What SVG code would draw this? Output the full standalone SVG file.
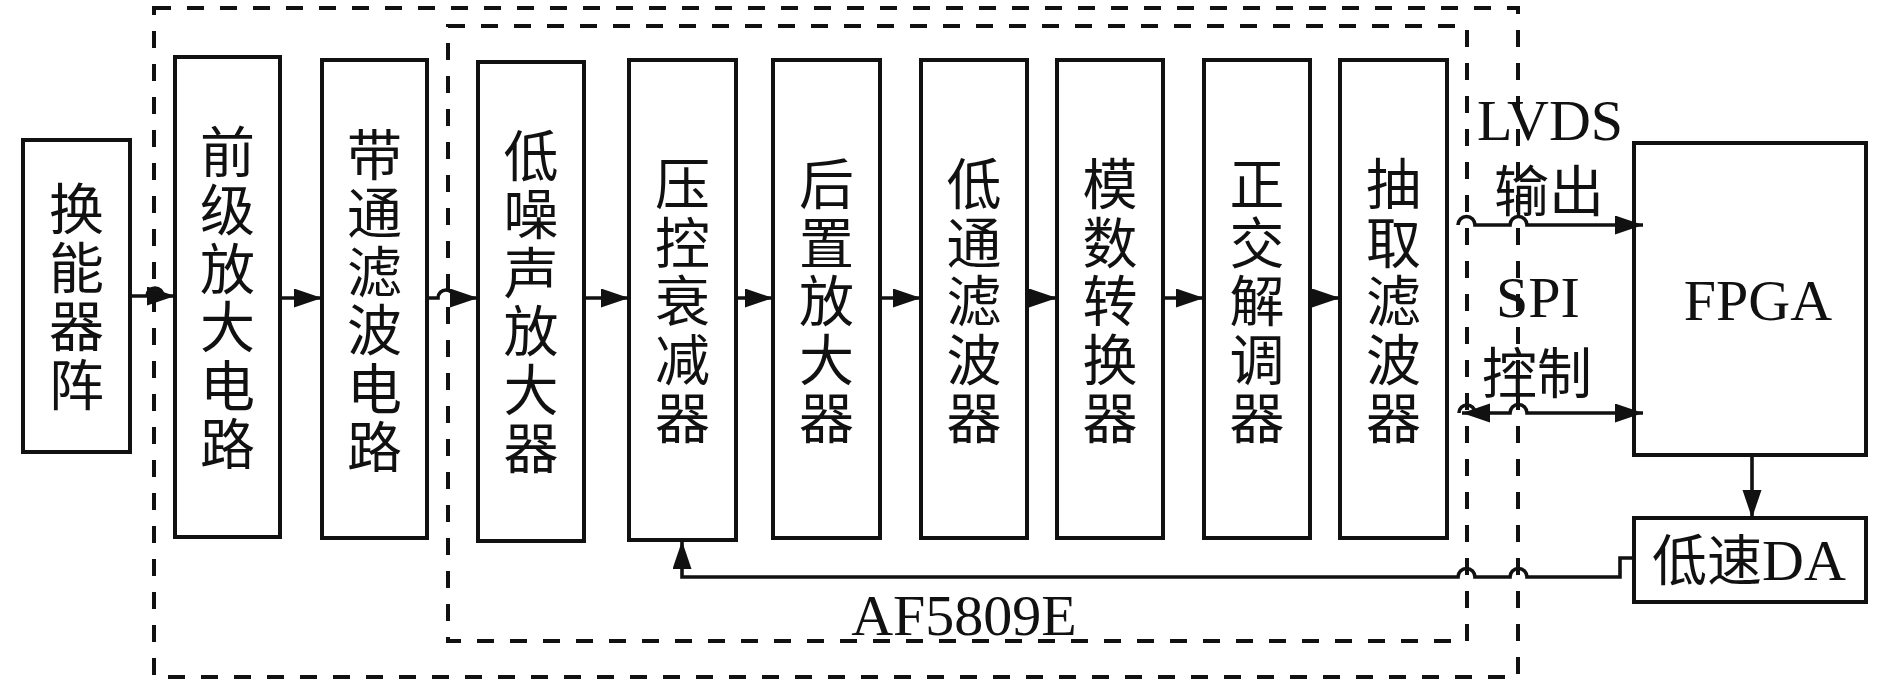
<svg xmlns="http://www.w3.org/2000/svg" width="1890" height="685" viewBox="0 0 1890 685">
<style>
.box{fill:#fff;stroke:#111;stroke-width:4}
.dash{fill:none;stroke:#111;stroke-width:4;stroke-dasharray:17 16}
.ln{fill:none;stroke:#111;stroke-width:3.6}
.cjk{font-family:"Noto Sans CJK SC",sans-serif;font-size:55px;fill:#111;text-anchor:middle}
.v{writing-mode:vertical-rl;text-orientation:upright;letter-spacing:3.5px}
.lat{font-family:"Liberation Serif","Noto Sans CJK SC",serif;font-size:58px;fill:#111;text-anchor:middle}
</style>
<defs>
<marker id="ah" markerUnits="userSpaceOnUse" markerWidth="30" markerHeight="20" refX="28" refY="9.5" orient="auto-start-reverse" viewBox="0 0 30 20">
<path d="M0,0 L28,9.5 L0,19 z" fill="#111"/>
</marker>
</defs>
<rect width="1890" height="685" fill="#fff"/>
<g id="frames">
<rect class="dash" x="154" y="8" width="1364" height="669"/>
<rect class="dash" x="448" y="26" width="1019" height="615"/>
</g>
<g id="n1"><rect class="box" x="23" y="140" width="107" height="312"/>
<text class="cjk v" x="76.5" y="298">换能器阵</text></g>
<g id="n2"><rect class="box" x="175" y="57" width="105" height="480"/>
<text class="cjk v" x="227.5" y="299">前级放大电路</text></g>
<g id="n3"><rect class="box" x="322" y="60" width="105" height="478"/>
<text class="cjk v" x="374.5" y="302">带通滤波电路</text></g>
<g id="n4"><rect class="box" x="478" y="62" width="106" height="479"/>
<text class="cjk v" x="531" y="303">低噪声放大器</text></g>
<g id="n5"><rect class="box" x="629" y="60" width="107" height="480"/>
<text class="cjk v" x="682.5" y="302">压控衰减器</text></g>
<g id="n6"><rect class="box" x="773" y="60" width="107" height="478"/>
<text class="cjk v" x="826.5" y="302">后置放大器</text></g>
<g id="n7"><rect class="box" x="921" y="60" width="106" height="478"/>
<text class="cjk v" x="974" y="302">低通滤波器</text></g>
<g id="n8"><rect class="box" x="1057" y="60" width="106" height="478"/>
<text class="cjk v" x="1110" y="302">模数转换器</text></g>
<g id="n9"><rect class="box" x="1204" y="60" width="106" height="478"/>
<text class="cjk v" x="1257" y="302">正交解调器</text></g>
<g id="n10"><rect class="box" x="1340" y="60" width="107" height="478"/>
<text class="cjk v" x="1393.5" y="302">抽取滤波器</text></g>
<g id="fpga"><rect class="box" x="1634" y="143" width="232" height="312"/>
<text class="lat" x="1758" y="320">FPGA</text></g>
<g id="da"><rect class="box" x="1634" y="518" width="232" height="84"/>
<text class="lat" x="1652" y="580" style="text-anchor:start"><tspan style="font-family:'Noto Sans CJK SC',sans-serif;font-size:55px">低速</tspan>DA</text></g>
<g id="labels">
<text class="lat" x="1550" y="140">LVDS</text>
<text class="cjk" x="1549" y="211">输出</text>
<text class="lat" x="1538" y="317">SPI</text>
<text class="cjk" x="1537" y="393">控制</text>
<text class="lat" x="964" y="635">AF5809E</text>
</g>
<g id="connectors">
<path class="ln" d="M130,296 H147 A8,8 0 0 1 163,296 H175" marker-end="url(#ah)"/>
<path class="ln" d="M280,298 H322" marker-end="url(#ah)"/>
<path class="ln" d="M427,298 H438 A8,8 0 0 1 454,298 H478" marker-end="url(#ah)"/>
<path class="ln" d="M584,298 H629" marker-end="url(#ah)"/>
<path class="ln" d="M736,298 H773" marker-end="url(#ah)"/>
<path class="ln" d="M880,298 H921" marker-end="url(#ah)"/>
<path class="ln" d="M1027,298 H1057" marker-end="url(#ah)"/>
<path class="ln" d="M1163,298 H1204" marker-end="url(#ah)"/>
<path class="ln" d="M1310,298 H1340" marker-end="url(#ah)"/>
<path class="ln" d="M1458,225 A8.5,8.5 0 0 1 1475,225 H1510 A8.5,8.5 0 0 1 1527,225 H1643" marker-end="url(#ah)"/>
<path class="ln" d="M1459,413 A8,8 0 0 1 1475,413"/>
<path class="ln" d="M1462,413 H1510 A8.5,8.5 0 0 1 1527,413 H1643" marker-start="url(#ah)" marker-end="url(#ah)"/>
<path class="ln" d="M1634,558 H1620 V577 H1527 A8.5,8.5 0 0 0 1510,577 H1475 A8.5,8.5 0 0 0 1458,577 H682 V541" marker-end="url(#ah)"/>
<path class="ln" d="M1752,455 V518" marker-end="url(#ah)"/>
</g>
</svg>
